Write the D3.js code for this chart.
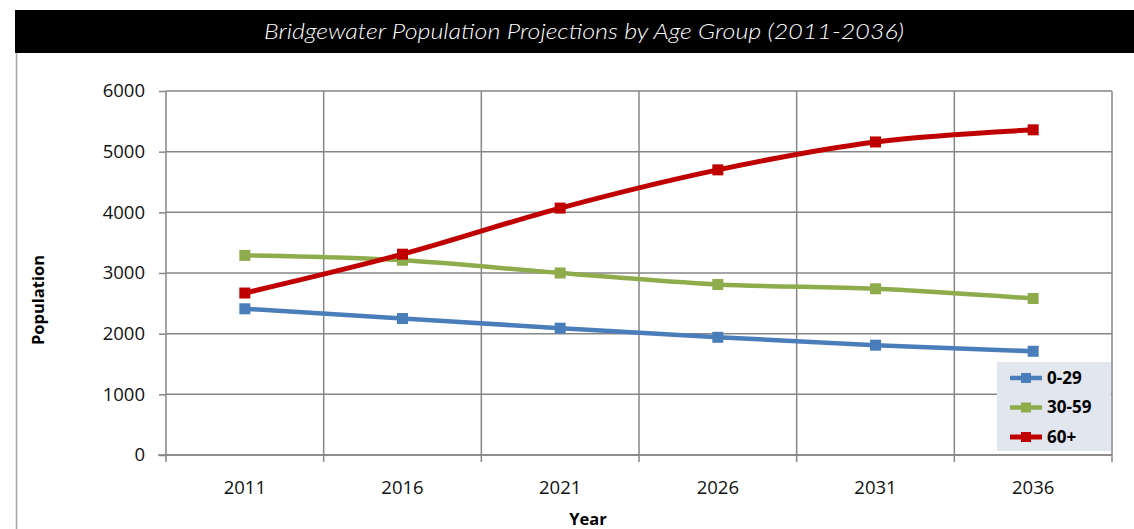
<!DOCTYPE html>
<html>
<head>
<meta charset="utf-8">
<script src="https://cdn.jsdelivr.net/npm/d3@7"></script>
<style>
  html, body { margin: 0; padding: 0; background: #fff; }
  svg { display: block; }
</style>
</head>
<body>
<svg id="chart" width="1134" height="529"></svg>
<script>
// Projection years and population per age group
const years = ["2011", "2016", "2021", "2026", "2031", "2036"];
const age0to29 = [2410, 2250, 2090, 1940, 1810, 1710];
const age30to59 = [3290, 3210, 3000, 2810, 2740, 2580];
const age60plus = [2670, 3310, 4070, 4700, 5160, 5360];
const seriesNames = ["0-29", "30-59", "60+"];
const yTicks = [0, 1000, 2000, 3000, 4000, 5000, 6000];

const series = [
  { name: seriesNames[0], values: age0to29, color: "#4a7ebb", width: 4.5 },
  { name: seriesNames[1], values: age30to59, color: "#8fac4c", width: 4.5 },
  { name: seriesNames[2], values: age60plus, color: "#c00000", width: 5 }
];

const svg = d3.select("#chart");
const plot = { left: 166, right: 1112, top: 91, bottom: 455 };

const x = d3.scaleBand().domain(years).range([plot.left, plot.right]);
const y = d3.scaleLinear().domain([0, 6000]).range([plot.bottom, plot.top]);
const cx = d => x(d) + x.bandwidth() / 2;

// Title bar
svg.append("rect").attr("x", 15).attr("y", 10).attr("width", 1119).attr("height", 43).attr("fill", "#000");
svg.append("text")
  .attr("x", 584).attr("y", 39)
  .attr("text-anchor", "middle")
  .attr("fill", "#fff")
  .attr("textLength", 640)
  .attr("lengthAdjust", "spacingAndGlyphs")
  .style("font-family", "Lato, 'Open Sans', sans-serif")
  .style("font-style", "italic")
  .style("font-weight", 300)
  .style("font-size", "22px")
  .text("Bridgewater Population Projections by Age Group (2011-2036)");

// Outer frame edge on the left
svg.append("line").attr("x1", 16.5).attr("x2", 16.5).attr("y1", 53).attr("y2", 529)
  .attr("stroke", "#a6a6a6").attr("stroke-width", 1.5);

// Horizontal gridlines
svg.append("g").selectAll("line").data(yTicks).join("line")
  .attr("x1", plot.left).attr("x2", plot.right)
  .attr("y1", d => y(d)).attr("y2", d => y(d))
  .attr("stroke", "#868686").attr("stroke-width", 1.5);

// Vertical gridlines at category boundaries
const bounds = years.map(d => x(d)).concat([plot.right]);
svg.append("g").selectAll("line").data(bounds).join("line")
  .attr("x1", d => d).attr("x2", d => d)
  .attr("y1", plot.top).attr("y2", plot.bottom + 7)
  .attr("stroke", "#868686").attr("stroke-width", 1.5);

// Y axis
const yAxis = svg.append("g")
  .attr("transform", `translate(${plot.left},0)`)
  .call(d3.axisLeft(y).tickValues(yTicks).tickFormat(d3.format("d")).tickSize(7).tickPadding(14));
yAxis.select(".domain").remove();
yAxis.selectAll(".tick line").attr("stroke", "#868686").attr("stroke-width", 1.5);
yAxis.selectAll("text")
  .style("font-family", "'Open Sans', sans-serif")
  .style("font-size", "18.5px")
  .attr("fill", "#111");

// X axis
const xAxis = svg.append("g")
  .attr("transform", `translate(0,${plot.bottom})`)
  .call(d3.axisBottom(x).tickSize(0).tickPadding(26));
xAxis.select(".domain").attr("d", `M${plot.left - 8},0H${plot.right}`)
  .attr("stroke", "#868686").attr("stroke-width", 1.5);
xAxis.selectAll("text")
  .style("font-family", "'Open Sans', sans-serif")
  .style("font-size", "18.5px")
  .attr("fill", "#111");

// Axis titles
svg.append("text")
  .attr("transform", "translate(44,300) rotate(-90)")
  .attr("text-anchor", "middle")
  .style("font-family", "'Open Sans', sans-serif")
  .style("font-weight", 700)
  .style("font-size", "16.5px")
  .attr("fill", "#000")
  .text("Population");
svg.append("text")
  .attr("x", 588).attr("y", 525)
  .attr("text-anchor", "middle")
  .style("font-family", "'Open Sans', sans-serif")
  .style("font-weight", 700)
  .style("font-size", "16.5px")
  .attr("fill", "#000")
  .text("Year");

// Series lines and markers
const line = d3.line()
  .x((d, i) => cx(years[i]))
  .y(d => y(d))
  .curve(d3.curveCatmullRom.alpha(0.5));

const lines = svg.append("g");
series.forEach(s => {
  lines.append("path")
    .attr("d", line(s.values))
    .attr("fill", "none")
    .attr("stroke", s.color)
    .attr("stroke-width", s.width)
    .attr("stroke-linejoin", "round");
  lines.append("g").selectAll("rect").data(s.values).join("rect")
    .attr("x", (d, i) => cx(years[i]) - 5.5)
    .attr("y", d => y(d) - 5.5)
    .attr("width", 11).attr("height", 11)
    .attr("fill", s.color);
});

// Legend
const legend = svg.append("g");
legend.append("rect")
  .attr("x", 997).attr("y", 362).attr("width", 114).attr("height", 89)
  .attr("fill", "#e2e6ee");
series.forEach((s, i) => {
  const ly = 378 + i * 29.5;
  legend.append("line")
    .attr("x1", 1010).attr("x2", 1042).attr("y1", ly).attr("y2", ly)
    .attr("stroke", s.color).attr("stroke-width", s.width);
  legend.append("rect")
    .attr("x", 1021).attr("y", ly - 5).attr("width", 10).attr("height", 10)
    .attr("fill", s.color);
  legend.append("text")
    .attr("x", 1047).attr("y", ly)
    .attr("dy", "0.35em")
    .style("font-family", "'Open Sans', sans-serif")
    .style("font-weight", 700)
    .style("font-size", "17px")
    .attr("fill", "#000")
    .text(s.name);
});
</script>
</body>
</html>
